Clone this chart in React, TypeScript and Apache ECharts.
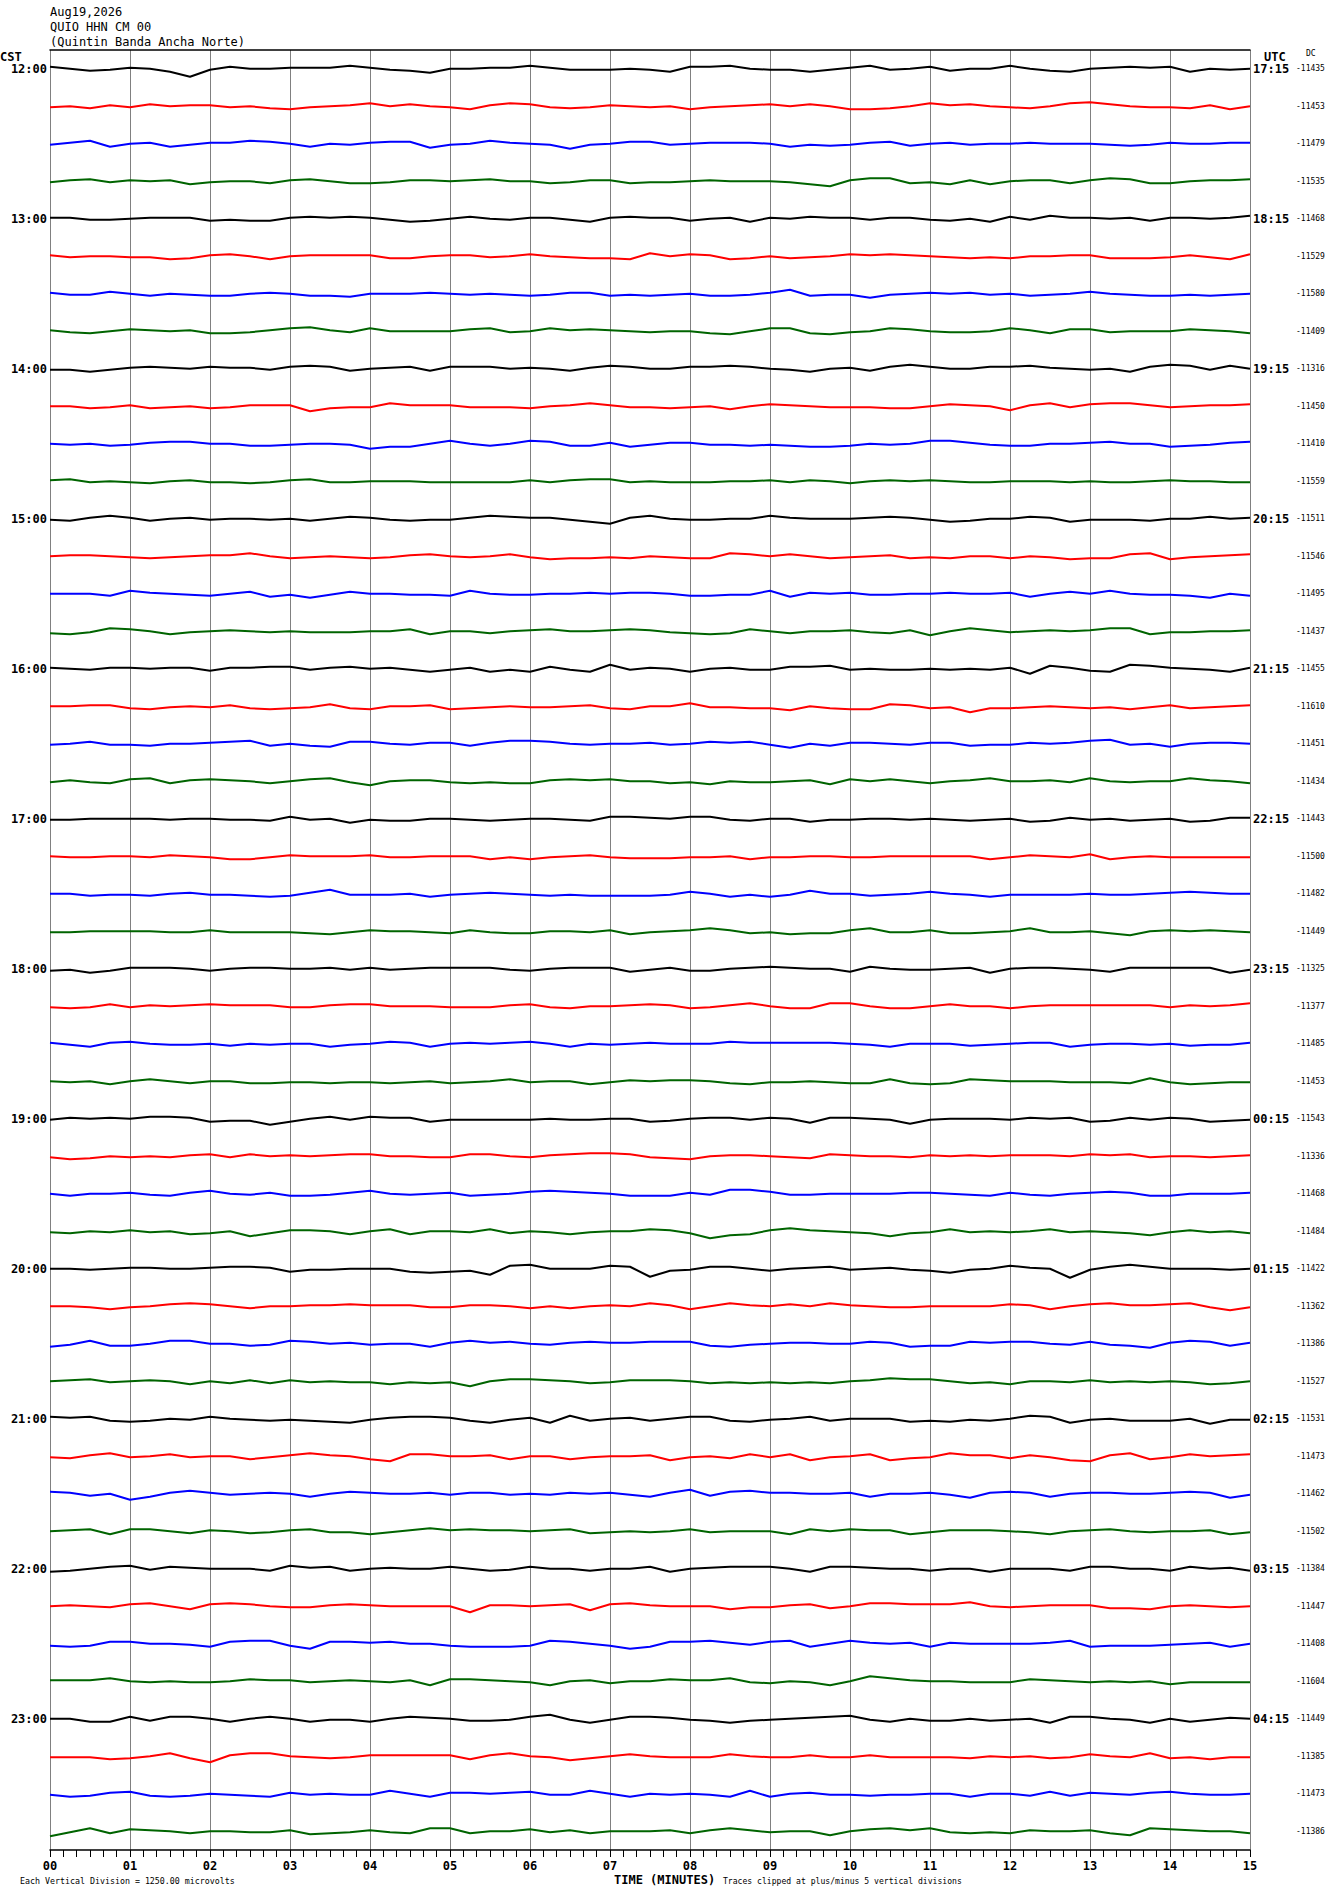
import React, { useEffect, useRef } from "react";
import * as echarts from "echarts";

// ---------- header / labels ----------
const headerDate = "Aug19,2026";
const headerStation = "QUIO HHN CM 00";
const headerName = "(Quintin Banda Ancha Norte)";
const footerLeft = "Each Vertical Division = 1250.00 microvolts";
const footerAxis = "TIME (MINUTES)";
const footerRight = "Traces clipped at plus/minus 5 vertical divisions";

const cstLabels = ["12:00", "13:00", "14:00", "15:00", "16:00", "17:00", "18:00", "19:00", "20:00", "21:00", "22:00", "23:00"];
const utcLabels = ["17:15", "18:15", "19:15", "20:15", "21:15", "22:15", "23:15", "00:15", "01:15", "02:15", "03:15", "04:15"];
const minuteLabels = ["00", "01", "02", "03", "04", "05", "06", "07", "08", "09", "10", "11", "12", "13", "14", "15"];

const dcValues = [
  -11435, -11453, -11479, -11535, -11468, -11529, -11580, -11409,
  -11316, -11450, -11410, -11559, -11511, -11546, -11495, -11437,
  -11455, -11610, -11451, -11434, -11443, -11500, -11482, -11449,
  -11325, -11377, -11485, -11453, -11543, -11336, -11468, -11484,
  -11422, -11362, -11386, -11527, -11531, -11473, -11462, -11502,
  -11384, -11447, -11408, -11604, -11449, -11385, -11473, -11386,
];

const traceColors = ["#000000", "#ff0000", "#0000ff", "#006400"];

// amplitude units per line spacing (one trace row)
const UNITS_PER_ROW = 37.5;

// Each trace: amplitude readings every 15 s across the 15-minute line (61 values)
const traces: number[][] = [
  [2,0,-2,-1,1,0,-3,-8,-1,2,0,0,1,1,1,3,1,-1,-2,-4,0,0,1,1,3,1,-1,-1,-1,0, -1,-3,2,2,3,0,-1,-1,-3,-1,1,3,-1,0,2,-2,0,0,3,0,-2,-3,0,1,2,1,2,-3,0,-1,0],
  [-1,0,-2,1,-1,2,0,1,1,-1,0,-2,-3,-1,0,1,3,0,2,0,-1,-3,1,3,2,-1,-2,-1,1,0, -1,0,-3,-1,0,1,2,0,2,0,-3,-3,-2,0,3,1,2,0,-1,-2,0,3,4,2,0,-1,-1,-2,1,-3,0],
  [-1,1,3,-3,0,1,-3,-1,1,1,3,2,0,-3,0,-1,1,2,2,-4,-1,0,3,1,0,-1,-5,-1,0,2, 2,-1,0,1,1,1,0,-3,-1,-2,-1,1,2,-2,0,1,-1,0,0,1,0,0,0,-1,-2,-1,1,0,0,1,1],
  [-1,1,2,-1,1,0,1,-3,-1,0,0,-2,1,2,0,-2,-2,-1,1,1,0,1,2,0,0,-2,-1,1,1,-2, -1,-1,0,1,0,0,0,-1,-3,-5,1,3,3,-2,-1,-3,1,-3,0,1,1,-2,1,3,2,-2,-2,0,1,1,2],
  [1,1,-1,-1,0,1,1,1,-2,-1,-2,-2,1,2,1,2,1,-1,-3,-2,0,2,0,-1,1,1,-1,-3,1,2, 1,1,-2,0,1,-3,1,0,2,1,1,-1,1,1,-1,-2,0,-3,2,-1,3,1,1,0,1,-2,1,1,0,1,3],
  [1,-1,0,0,-1,-1,-3,-2,1,2,0,-3,0,1,1,1,1,-2,-2,0,1,1,-1,0,2,0,-1,-2,-2,-3, 3,0,2,1,-3,-2,0,-2,-1,0,2,1,2,1,0,-1,-2,-1,-2,0,0,1,1,-2,-2,-2,-1,1,-1,-3,2],
  [1,-1,-1,2,0,-2,0,-1,-2,-2,0,1,0,-2,-2,-3,0,0,0,1,0,-1,0,-1,-2,-1,1,1,-2,-1, -2,-1,0,-2,-2,-1,1,4,-2,-1,-1,-4,-1,0,1,0,1,-1,0,-2,-1,0,2,0,-1,-2,-2,-1,-2,-1,0],
  [1,-1,-2,0,2,1,0,1,-2,-2,-1,1,3,4,1,-1,3,0,0,0,0,2,3,-1,0,3,1,2,1,0, -1,0,0,-2,-3,0,3,3,-2,-3,-1,0,3,2,0,-1,-1,0,3,1,-2,2,2,-1,0,0,0,2,1,0,-2],
  [-1,-1,-3,-1,1,2,1,0,2,1,1,-1,2,3,2,-2,0,1,2,-2,2,2,2,0,1,0,-2,1,3,2, 0,0,2,2,3,2,0,-1,-3,0,1,-2,2,4,2,0,0,2,2,3,1,0,-1,0,-3,2,4,3,-1,3,0],
  [0,0,-2,-1,1,-2,-1,0,-2,-1,1,1,1,-5,-2,-1,-1,3,1,1,1,-1,-1,-1,-2,0,1,3,1,-1, -1,-2,-1,0,-3,0,2,1,0,-1,-1,-1,-2,-2,0,2,1,0,-4,1,3,-1,2,3,3,1,-1,0,1,1,2],
  [0,-1,0,-2,-1,1,2,2,0,0,-2,-2,-1,0,0,-1,-5,-3,-3,0,3,0,-2,0,3,2,-2,-2,1,-3, -1,1,1,-1,-1,-2,-1,-2,-3,-3,-2,0,-1,0,3,3,1,-1,-2,-2,0,0,1,2,0,0,-3,-2,-1,1,2],
  [1,2,-1,0,-1,-2,0,1,-1,-1,-2,-1,1,2,-1,-1,0,0,0,-1,-1,-1,-1,-1,1,-1,1,2,2,-1, 0,-1,-1,-1,0,0,1,-1,1,0,-2,0,1,0,1,0,-1,-1,0,0,0,-1,0,-1,-1,0,1,0,0,-1,-1],
  [-1,-2,1,3,1,-2,0,1,-1,0,0,-1,0,-2,0,2,1,-1,-2,-1,-1,1,3,2,1,1,-1,-3,-5,1, 3,0,-1,-1,0,0,3,1,0,0,0,1,2,1,-1,-3,-2,0,0,2,1,-3,-1,-1,-1,-2,0,0,2,0,1],
  [0,1,1,0,-1,-2,-1,0,1,1,3,0,-2,-1,0,-1,-2,-1,1,2,0,-1,0,2,-1,-3,-2,-2,-1,-2, 0,-1,-2,-2,3,2,0,2,0,-2,-1,0,1,-2,-1,-2,0,0,-2,0,-1,-3,-2,-2,2,3,-3,-1,0,1,2],
  [0,0,0,-2,3,1,0,-1,-2,0,2,-3,-1,-4,-1,2,0,0,-1,-1,-2,3,0,-1,-1,0,0,1,0,1, 1,0,-2,-2,-1,-1,3,-3,1,0,1,-1,-1,0,0,1,0,0,1,-3,0,2,0,3,0,-1,-1,-2,-4,0,-2],
  [-2,-3,-1,3,2,0,-3,-1,0,1,0,-1,0,-1,-1,-1,0,0,2,-3,0,0,-2,0,1,2,0,0,1,2, 1,-1,-2,-3,-2,2,0,-2,0,0,1,-1,-2,1,-4,0,3,1,-1,0,1,0,1,3,3,-3,-1,-1,0,0,1],
  [1,0,-1,1,1,0,1,1,-2,1,1,2,2,-1,1,2,0,1,-1,-3,-1,1,-3,-1,-3,2,-1,-3,4,-1, 1,0,-3,0,1,-1,-1,2,2,3,-1,0,-1,-1,0,-1,0,-1,1,-5,3,1,-2,-3,4,3,1,0,-1,-3,1],
  [0,0,1,1,-2,-3,-1,0,-1,1,-2,-3,-2,-1,2,-2,-3,0,0,1,-3,-2,-1,0,-1,-1,0,1,-2,-3, 0,0,3,-1,-1,-2,-2,-4,0,-2,-3,-3,2,1,-2,-1,-6,-2,-2,-1,0,-1,-2,-1,-3,-1,1,-2,-1,0,1],
  [-1,0,2,-1,-1,-2,0,0,1,2,3,-2,0,-2,-3,2,2,0,-1,1,1,-2,1,3,3,2,0,-1,0,0, 1,-1,0,2,1,2,-1,-4,0,-2,1,1,0,-1,1,1,-2,-1,-1,1,0,1,3,4,-1,0,-3,0,1,1,0],
  [-1,1,-1,-2,2,3,-2,1,2,1,0,-2,0,2,3,-1,-4,0,1,1,-1,-2,-1,-2,-2,1,2,1,2,0, 0,-2,-1,-3,0,-1,-1,0,1,-3,2,0,2,0,-2,0,1,3,0,0,1,-1,3,0,-1,0,0,3,1,0,-2],
  [-1,-1,0,0,0,0,-1,0,0,-1,-1,-2,2,-1,0,-4,-1,-2,-2,0,0,-1,-2,-1,0,0,-1,-2,2,2, 1,0,2,2,-1,-2,0,0,-3,-1,-1,0,0,-1,0,-1,-2,-1,0,-3,-2,1,-1,0,-2,-1,0,-3,-2,1,1],
  [0,-1,-1,0,0,-1,1,0,-1,-3,-3,-1,1,0,0,0,1,-1,-1,0,0,0,-3,-1,-3,-1,0,1,-1,-2, -2,-2,-1,-1,0,-3,-1,-1,0,0,-1,-1,0,0,0,0,0,-3,-1,1,0,-1,2,-3,-1,0,-1,-1,-1,-1,-1],
  [0,0,-2,-1,-1,-2,0,1,-1,-1,-2,-3,-2,1,4,-1,-1,-1,0,-3,-1,0,1,0,-1,-2,-1,-2,-2,-2, -2,-1,2,0,-3,-1,-3,-1,3,0,0,-2,-1,0,2,0,-1,-3,-1,-1,-1,-1,0,-1,-1,0,1,2,1,0,0],
  [-1,-1,0,0,0,0,-1,-1,1,-1,-1,-1,-1,-2,-3,-1,1,0,0,-1,-2,1,-1,-2,-2,0,0,-1,1,-3, -1,0,1,3,1,-2,-1,-3,-2,-2,1,3,-1,-1,1,-2,-2,-1,0,3,-1,-1,0,-2,-4,0,1,0,1,0,-1],
  [-2,-1,-4,-2,1,1,1,0,-2,0,1,1,0,0,1,-1,1,-1,0,1,1,1,1,-1,-2,0,1,1,1,-3, -1,1,-2,-2,0,1,2,1,0,0,-3,2,0,-1,-1,0,1,-4,0,1,1,0,-1,-3,1,1,1,1,1,-4,-1],
  [-1,-2,-1,2,-1,1,0,1,2,1,1,1,-1,-1,1,2,2,0,0,0,-1,-1,-1,1,2,-1,-2,0,0,1, 2,1,-2,-1,1,3,0,-2,-2,3,3,0,-2,-2,0,2,0,0,-2,0,1,1,1,1,1,1,-1,1,0,1,3],
  [1,-1,-3,1,2,0,-1,-1,0,-2,0,-1,0,0,-3,-1,0,2,1,-3,0,1,0,1,2,0,-3,0,-1,0, 1,0,0,0,2,1,1,1,1,1,0,-1,-3,0,0,0,-2,-1,0,1,1,-3,-1,0,0,-1,0,-2,-1,-1,1],
  [0,-1,0,-3,0,2,0,-2,0,0,-2,-2,-1,-1,-2,-1,-1,-2,-1,0,-2,-1,0,2,-1,0,0,-3,-1,1, 0,1,1,0,-2,-3,-1,-1,0,-1,-2,-2,2,-2,-3,-2,2,1,0,0,0,-1,-1,-1,-2,3,-1,-3,-2,-1,-1],
  [-1,1,0,1,0,2,2,1,-3,-2,-2,-6,-3,0,2,-1,2,1,1,-3,-1,-1,-1,-1,-1,0,-1,-1,0,0, -3,-2,0,1,1,-1,1,0,-4,1,1,0,-1,-5,-1,0,0,0,-1,1,0,1,-3,-2,1,-1,1,0,-3,-2,-1],
  [-1,-3,-2,0,-1,0,-1,1,2,-1,2,0,1,0,1,2,2,0,0,-1,-1,2,2,0,-1,1,2,3,3,2, -1,-2,-3,0,1,1,0,-1,-2,2,1,0,0,-1,1,0,1,0,1,1,1,0,2,1,2,-1,0,0,-1,0,1],
  [0,-2,0,0,1,-1,-2,1,3,0,-1,1,-2,-2,-1,1,3,0,-1,0,1,-2,-1,0,2,3,2,1,0,-2, -2,-2,1,-1,4,4,2,-1,-1,0,0,0,0,1,1,0,-1,-2,1,-1,-2,0,1,2,1,-2,-2,0,0,0,1],
  [-1,-2,0,-1,1,-1,0,-3,-2,0,-5,-2,1,1,0,-3,0,2,-3,0,0,-1,2,-2,0,-1,-3,-1,0,0, 2,1,-2,-7,-4,-3,1,3,1,0,-1,-2,-5,-2,-1,2,-1,0,-1,0,2,-1,0,-1,-2,-4,-1,1,-1,0,-2],
  [0,0,-1,0,1,1,0,0,1,2,2,1,-3,-1,-1,0,0,0,-3,-4,-3,-2,-6,3,4,0,0,0,3,2, -8,-2,-1,2,2,0,-2,0,1,2,-1,0,1,-1,-2,-4,-1,0,3,1,0,-9,-1,2,4,2,0,0,0,-1,0],
  [0,0,-1,-3,-1,0,2,3,2,0,-2,0,0,1,1,2,1,1,1,-1,-1,1,1,0,-2,0,-2,0,1,0, 3,1,-3,0,3,1,0,2,0,3,1,0,-1,-1,0,0,0,0,2,1,-3,0,2,3,1,1,2,3,-1,-4,-1],
  [-3,-1,3,-2,-2,0,3,3,0,0,-2,-1,3,2,0,1,-1,0,0,-3,1,3,1,2,0,-1,1,2,1,1, 2,2,2,-2,-3,-1,0,1,1,0,0,2,1,-3,-2,-2,2,1,2,2,0,-1,2,-1,-2,-4,1,3,2,-2,1],
  [0,1,2,-1,0,1,0,-3,0,-2,1,-2,1,-1,0,-1,-1,-3,-1,-2,-1,-5,0,2,2,1,0,-2,-1,1, 1,1,0,-2,-1,-2,-1,-2,-1,-2,0,1,3,2,2,0,-2,-1,-3,0,0,-1,1,-1,0,-1,0,-1,-3,-2,0],
  [2,1,2,-2,-3,-2,0,-1,2,0,-1,-2,-1,-2,-3,-4,-1,1,2,2,1,-2,-4,-1,1,-4,3,-2,0,1, -2,0,2,2,-2,-3,-1,0,2,-2,0,0,0,-3,-2,-3,-1,-2,0,3,2,-4,-1,0,-2,-2,-2,0,-5,-1,-1],
  [-1,-2,1,3,-1,0,2,-1,0,0,-3,-1,1,3,1,0,-3,-5,2,2,0,0,1,-3,0,0,-3,-1,0,0, 1,-4,-1,0,-2,2,-1,2,-4,-1,0,2,-4,-2,-1,3,1,1,-2,1,-1,-4,-5,1,3,-3,-1,2,0,1,2],
  [2,1,-2,0,-6,-3,1,3,1,-1,0,1,0,-3,0,2,1,0,0,1,-1,1,1,-1,0,-1,1,0,1,-1, -3,1,4,-2,2,3,1,1,0,0,1,-3,0,0,1,-1,-4,1,2,1,-3,0,1,1,0,0,1,2,1,-4,-1],
  [0,1,2,-3,2,2,0,-2,1,0,-2,-1,1,2,-1,-1,-3,-1,1,3,1,2,1,1,0,1,2,-2,-1,0, -1,0,2,-1,0,0,0,-3,2,0,2,1,1,-3,-1,1,1,1,0,-1,-3,0,1,2,0,-1,0,0,1,-3,-1],
  [-3,-2,0,2,3,-1,2,1,0,0,0,-2,3,1,2,-2,0,1,0,0,2,0,-2,-1,2,0,0,-2,0,0, 2,-3,0,1,2,2,2,0,-3,2,2,1,0,0,-2,0,0,-3,0,0,0,-2,2,2,0,0,-2,2,0,1,-2],
  [0,1,0,-1,2,3,0,-3,2,3,2,0,-1,-1,1,2,1,0,0,0,0,-6,1,1,0,1,2,-4,2,3, 1,0,0,0,-3,-1,-1,1,2,-2,0,3,3,2,2,2,4,0,-1,0,1,1,1,-2,-2,-3,0,1,0,-1,0],
  [-2,-3,-2,2,2,0,0,-1,-3,2,3,3,-2,-5,2,2,1,2,0,0,-2,-3,-3,-3,-2,3,2,0,-2,-5, -3,2,2,3,1,-1,2,3,-3,0,3,1,0,1,-3,1,0,0,0,0,1,3,-3,-2,-2,-2,-1,0,1,-3,0],
  [1,1,1,3,0,-1,0,-1,-1,0,2,1,1,-1,0,1,0,-1,1,-4,2,2,1,0,-1,-4,0,1,-2,0, 0,2,1,1,3,-1,-2,0,-1,-4,0,5,3,1,0,0,-1,-1,-1,2,1,0,-1,0,-1,0,-3,-1,-1,-1,-1],
  [0,0,-3,-3,2,-2,2,2,0,-3,0,2,0,-3,-1,-1,-3,0,2,1,0,-2,-2,-1,2,4,-1,-4,-1,2, 2,1,-1,-2,-4,-2,-1,0,1,2,3,-1,-3,0,-2,-2,0,-2,-1,0,-4,2,2,0,-1,-4,0,-3,-1,1,0],
  [-1,-1,-1,-3,-2,0,3,-2,-6,1,3,3,0,-1,-2,-1,1,1,1,1,1,-3,1,3,0,-1,-4,-2,0,2, 0,-1,-1,-1,2,0,-1,-1,1,-1,-1,1,-1,-1,-1,-1,-2,0,-1,0,-2,-1,2,0,-1,3,-2,-1,-3,-1,-1],
  [-1,-3,-2,1,2,-2,-3,-2,0,-1,-2,-3,1,-1,0,-1,-1,3,0,-3,1,1,0,1,2,-1,-1,3,0,-3, 0,-1,0,-1,-3,3,-3,0,1,-1,-1,-2,-1,-1,0,0,-3,0,0,-2,2,-2,1,0,-1,1,2,0,-1,-1,0],
  [-5,-1,3,-2,2,1,0,-2,0,0,-1,-1,1,-3,-2,-1,1,-1,-2,3,3,-2,0,0,2,-1,1,-2,0,0, 0,1,-2,1,3,1,-1,0,0,-4,0,2,3,1,3,-1,-2,-1,-2,1,0,0,1,-2,-4,3,2,1,0,0,-2],
];

const MONO = "'DejaVu Sans Mono', 'Liberation Mono', monospace";

const App: React.FC = () => {
  const ref = useRef<HTMLDivElement>(null);

  useEffect(() => {
    if (!ref.current) return;
    const chart = echarts.init(ref.current, undefined, { renderer: "svg" });
    const n = traces.length;
    const leftCats = traces.map((_, i) => (i % 4 === 0 ? cstLabels[i / 4] : ""));
    const rightCats = traces.map((_, i) => (i % 4 === 0 ? utcLabels[i / 4] : ""));
    const dcCats = dcValues.map((v) => String(v));

    const series = traces.map((vals, i) => ({
      type: "line",
      xAxisIndex: 0,
      yAxisIndex: 0,
      symbol: "none",
      showSymbol: false,
      silent: true,
      z: 3,
      lineStyle: { color: traceColors[i % 4], width: 2 },
      data: vals.map((v, k) => [(k * 15) / (vals.length - 1), i - v / UNITS_PER_ROW]),
    }));

    const catAxis = (data: string[], position: string, margin: number, fontSize: number, bold: boolean) => ({
      type: "category",
      data,
      inverse: true,
      position,
      gridIndex: 0,
      axisLine: { show: false },
      axisTick: { show: false },
      splitLine: { show: false },
      axisLabel: {
        interval: 0,
        margin,
        color: "#000",
        fontFamily: MONO,
        fontSize,
        fontWeight: bold ? "bold" : "normal",
      },
    });

    const text = (t: string, x: number, y: number, size: number, bold = false, align = "left") => ({
      type: "text",
      x,
      y,
      silent: true,
      style: {
        text: t,
        fill: "#000",
        font: `${bold ? "bold " : ""}${size}px ${MONO}`,
        align,
        textAlign: align,
        verticalAlign: "middle",
        textVerticalAlign: "middle",
      },
    });

    chart.setOption({
      animation: false,
      backgroundColor: "#ffffff",
      grid: { left: 50, top: 50, width: 1200, height: 1800, containLabel: false },
      xAxis: [
        {
          type: "value",
          min: 0,
          max: 15,
          interval: 1,
          position: "bottom",
          axisLine: { show: true, onZero: false, lineStyle: { color: "#000", width: 1.5 } },
          axisTick: { show: true, length: 7, lineStyle: { color: "#000" } },
          minorTick: { show: true, splitNumber: 6, length: 7, lineStyle: { color: "#000" } },
          axisLabel: {
            formatter: (v: number) => minuteLabels[Math.round(v)],
            color: "#000",
            fontFamily: MONO,
            fontWeight: "bold",
            fontSize: 12,
            margin: 10,
          },
          splitLine: { show: true, lineStyle: { color: "#808080", width: 1 } },
        },
        {
          type: "value",
          min: 0,
          max: 15,
          position: "top",
          axisLine: { show: true, onZero: false, lineStyle: { color: "#000", width: 1.5 } },
          axisTick: { show: false },
          axisLabel: { show: false },
          splitLine: { show: false },
        },
      ],
      yAxis: [
        {
          type: "value",
          min: -0.5,
          max: n - 0.5,
          inverse: true,
          position: "left",
          axisLine: { show: false },
          axisTick: { show: false },
          axisLabel: { show: false },
          splitLine: { show: false },
        },
        catAxis(leftCats, "left", 3, 12, true),
        catAxis(rightCats, "right", 3, 12, true),
        catAxis(dcCats, "right", 46, 8, false),
      ],
      series,
      graphic: [
        text(headerDate, 50, 11.5, 12),
        text(headerStation, 50, 26.5, 12),
        text(headerName, 50, 42, 12),
        text("CST", 0, 57, 12, true),
        text("UTC", 1264, 57, 12, true),
        text("DC", 1306, 53, 8),
        text(footerLeft, 20, 1881, 8.3),
        text(footerAxis, 614, 1880, 12, true),
        text(footerRight, 723, 1881, 8.1),
      ],
    });
    return () => chart.dispose();
  }, []);

  return (
    <div
      ref={ref}
      style={{ position: "absolute", left: 0, top: 0, width: 1330, height: 1894, background: "#fff" }}
    />
  );
};

export default App;
